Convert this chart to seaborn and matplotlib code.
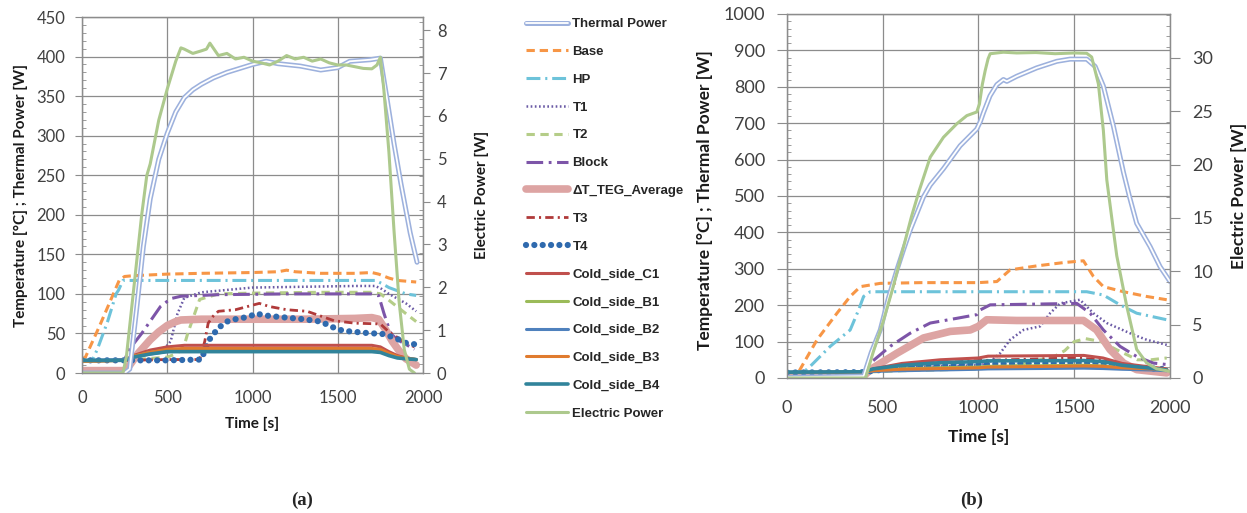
import matplotlib
matplotlib.use("Agg")
import matplotlib.pyplot as plt
import seaborn as sns
from matplotlib.ticker import MultipleLocator
from matplotlib.legend_handler import HandlerTuple

# ---------------- data (a) ----------------
a_thermal_t = [0, 250, 280, 320, 360, 400, 450, 500, 550, 600, 650, 700, 770, 850, 1000, 1080, 1150, 1280, 1400, 1500, 1570, 1690, 1750, 1790, 1830, 1870, 1925, 1965]
a_thermal = [0, 0, 5, 80, 160, 220, 270, 303, 330, 348, 358, 365, 373, 380, 390, 394, 391, 388, 383, 386, 394, 396, 398, 345, 290, 240, 177, 140]

a_base_t = [0, 20, 100, 220, 250, 300, 500, 700, 1000, 1150, 1200, 1250, 1400, 1600, 1700, 1740, 1800, 1850, 1960]
a_base = [18, 20, 58, 118, 122, 123, 125, 126, 127, 128, 130, 128, 126, 126, 127, 125, 120, 117, 115]

a_hp_t = [0, 60, 90, 150, 200, 215, 240, 500, 1000, 1500, 1720, 1760, 1800, 1850, 1900, 1960]
a_hp = [15, 16, 30, 65, 100, 105, 117, 117, 117, 117, 117, 113, 108, 104, 100, 98]

a_t1_t = [0, 250, 400, 480, 520, 560, 600, 700, 900, 1000, 1300, 1600, 1720, 1760, 1800, 1900, 1960]
a_t1 = [15, 16, 25, 30, 40, 75, 95, 102, 106, 108, 109, 110, 110, 106, 100, 88, 78]

a_t2_t = [0, 250, 500, 560, 600, 620, 690, 800, 1000, 1400, 1700, 1750, 1800, 1900, 1960]
a_t2 = [15, 16, 20, 25, 35, 50, 93, 100, 101, 102, 102, 100, 92, 75, 65]

a_block_t = [0, 250, 270, 350, 460, 520, 580, 800, 1200, 1700, 1740, 1770, 1810, 1850, 1900, 1950]
a_block = [15, 16, 28, 50, 84, 94, 97, 99, 100, 100, 98, 76, 50, 42, 36, 30]

a_dt_t = [0, 250, 280, 330, 400, 450, 500, 550, 580, 700, 1000, 1300, 1600, 1700, 1740, 1780, 1820, 1860, 1900, 1960]
a_dt = [3, 3, 10, 25, 42, 52, 60, 65, 67, 68, 68, 68, 69, 70, 68, 55, 40, 28, 18, 10]

a_t3_t = [0, 250, 500, 690, 720, 740, 770, 800, 900, 1040, 1100, 1200, 1320, 1480, 1600, 1750, 1800, 1850, 1900, 1950]
a_t3 = [15, 16, 17, 17, 40, 63, 72, 78, 80, 88, 84, 80, 78, 66, 63, 62, 52, 45, 38, 33]

a_t4_t = [0, 250, 300, 500, 700, 740, 760, 800, 850, 900, 950, 1000, 1020, 1100, 1200, 1300, 1400, 1450, 1500, 1550, 1600, 1700, 1750, 1800, 1850, 1900, 1960]
a_t4 = [16, 16, 16, 16, 17, 40, 46, 57, 65, 68, 70, 73, 75, 72, 70, 68, 65, 60, 55, 53, 52, 50, 50, 47, 43, 38, 36]

a_cold_t = [0, 250, 300, 400, 500, 600, 1000, 1700, 1750, 1800, 1850, 1900, 1960]
a_c1 = [15, 16, 22, 29, 33, 35, 35, 35, 33, 27, 22, 19, 17]
a_b1 = [15, 16, 21, 26, 29, 30, 30, 30, 28, 24, 20, 18, 17]
a_b2 = [16, 17, 20, 24, 27, 28, 28, 28, 27, 23, 20, 18, 17]
a_b3 = [15, 16, 21, 26, 30, 31, 31, 31, 30, 25, 21, 19, 17]
a_b4 = [16, 16, 20, 24, 27, 27, 27, 27, 26, 22, 19, 18, 17]

a_elec_t = [0, 100, 200, 240, 260, 300, 350, 380, 400, 450, 500, 550, 580, 600, 650, 700, 730, 750, 800, 850, 900, 950, 1000, 1050, 1100, 1150, 1200, 1250, 1300, 1350, 1400, 1450, 1500, 1550, 1600, 1650, 1700, 1730, 1750, 1770, 1800, 1830, 1860, 1890, 1920, 1950]
a_elec = [0, 0, 0, 0, 0.37, 1.84, 3.69, 4.61, 4.88, 5.9, 6.63, 7.28, 7.59, 7.56, 7.46, 7.52, 7.56, 7.7, 7.41, 7.46, 7.33, 7.37, 7.28, 7.24, 7.19, 7.28, 7.41, 7.33, 7.37, 7.28, 7.33, 7.24, 7.19, 7.19, 7.15, 7.11, 7.1, 7.19, 7.37, 6.63, 5.16, 3.32, 1.66, 0.55, 0.09, 0]

# ---------------- data (b) ----------------
b_thermal_t = [0, 400, 440, 487, 530, 574, 610, 643, 713, 748, 817, 904, 991, 1010, 1026, 1060, 1096, 1130, 1148, 1200, 1304, 1409, 1478, 1565, 1609, 1652, 1704, 1757, 1790, 1826, 1896, 1948, 2000]
b_thermal = [2, 5, 70, 132, 220, 297, 355, 406, 498, 530, 575, 638, 684, 705, 729, 775, 806, 820, 815, 829, 852, 870, 876, 876, 856, 802, 693, 565, 495, 425, 361, 306, 265]

b_base_t = [0, 60, 87, 157, 261, 330, 383, 487, 700, 1000, 1096, 1165, 1304, 1443, 1548, 1600, 1652, 1757, 1878, 1983]
b_base = [15, 16, 41, 105, 178, 224, 251, 260, 262, 262, 265, 297, 308, 317, 322, 279, 251, 237, 224, 215]

b_hp_t = [0, 60, 104, 226, 330, 374, 400, 435, 800, 1200, 1565, 1652, 1739, 1826, 1983]
b_hp = [15, 16, 23, 87, 132, 187, 224, 237, 237, 237, 237, 228, 201, 178, 160]

b_t1_t = [0, 400, 500, 800, 1000, 1050, 1113, 1165, 1235, 1322, 1374, 1426, 1530, 1600, 1670, 1791, 1878, 1983]
b_t1 = [15, 16, 28, 32, 35, 40, 68, 105, 132, 142, 178, 205, 215, 178, 151, 123, 105, 91]

b_t2_t = [0, 400, 600, 1000, 1200, 1400, 1450, 1500, 1560, 1640, 1720, 1830, 1900, 1983]
b_t2 = [15, 16, 20, 25, 35, 60, 75, 100, 108, 100, 78, 50, 50, 55]

b_block_t = [0, 400, 435, 539, 643, 748, 887, 991, 1009, 1061, 1300, 1513, 1583, 1652, 1739, 1826, 1913, 1983]
b_block = [15, 16, 41, 87, 123, 151, 164, 174, 187, 201, 203, 205, 178, 132, 87, 59, 41, 37]

b_dt_t = [0, 400, 435, 574, 713, 852, 957, 1000, 1043, 1200, 1400, 1548, 1617, 1687, 1757, 1826, 1983]
b_dt = [5, 5, 23, 68, 110, 128, 132, 142, 160, 158, 158, 158, 132, 78, 41, 23, 14]

b_t3_t = [0, 400, 600, 1000, 1500, 1600, 1750, 1900, 1983]
b_t3 = [15, 16, 35, 48, 55, 52, 38, 28, 25]

b_t4_t = [0, 400, 600, 1000, 1500, 1650, 1800, 1983]
b_t4 = [15, 16, 30, 38, 42, 40, 30, 24]

b_cold_t = [0, 400, 450, 600, 800, 1000, 1050, 1550, 1650, 1750, 1900, 1983]
b_c1 = [15, 16, 25, 40, 50, 55, 60, 62, 55, 40, 30, 25]
b_b1 = [15, 16, 20, 25, 28, 30, 32, 35, 33, 28, 24, 22]
b_b2 = [16, 16, 18, 20, 22, 24, 25, 27, 26, 24, 22, 20]
b_b3 = [15, 16, 20, 24, 26, 28, 30, 33, 32, 28, 25, 23]
b_b4 = [16, 17, 25, 35, 42, 45, 47, 48, 45, 35, 27, 22]

b_elec_t = [0, 410, 450, 500, 550, 600, 650, 690, 748, 817, 887, 939, 991, 1005, 1020, 1035, 1050, 1061, 1130, 1200, 1300, 1400, 1500, 1565, 1591, 1626, 1652, 1670, 1700, 1722, 1774, 1826, 1878, 1930, 2000]
b_elec = [0, 0, 2.41, 5.16, 8.25, 11.69, 15.12, 17.53, 20.69, 22.55, 23.82, 24.58, 24.92, 25.67, 27.5, 28.8, 29.9, 30.38, 30.52, 30.45, 30.49, 30.38, 30.45, 30.42, 30.07, 27.56, 23.2, 18.56, 14.44, 11.45, 6.74, 2.68, 1.41, 0.86, 0.62]

labels = ["Thermal Power", "Base", "HP", "T1", "T2", "Block", "\u0394T_TEG_Average", "T3", "T4",
          "Cold_side_C1", "Cold_side_B1", "Cold_side_B2", "Cold_side_B3", "Cold_side_B4", "Electric Power"]

# ---------------- styles ----------------
sns.set_style("white")
plt.rcParams['font.family'] = ['Lato', 'DejaVu Sans']
plt.rcParams['lines.scale_dashes'] = False

grey = '#8C8C8C'
styles = {
    "Base": dict(color='#F79646', lw=2.2, ls=(0, (6, 3.5))),
    "HP": dict(color='#6DC3DA', lw=2.2, ls=(0, (10, 3.5, 1.5, 3.5))),
    "T1": dict(color='#6A5AA5', lw=1.8, ls=(0, (1.2, 1.8))),
    "T2": dict(color='#B5CD88', lw=2.2, ls=(0, (6, 4))),
    "Block": dict(color='#7D55A8', lw=2.2, ls=(0, (12, 4, 2, 4))),
    "\u0394T_TEG_Average": dict(color='#DDA4A3', lw=5.5, ls='-'),
    "T3": dict(color='#B03A3A', lw=2.0, ls=(0, (6, 3, 1.5, 3))),
    "T4": dict(color='#2F6AAE', lw=4.5, ls=(0, (0.01, 6)), dash_capstyle='round'),
    "Cold_side_C1": dict(color='#C0504D', lw=2.2, ls='-'),
    "Cold_side_B1": dict(color='#9BBB59', lw=2.2, ls='-'),
    "Cold_side_B2": dict(color='#4F81BD', lw=2.2, ls='-'),
    "Cold_side_B3": dict(color='#E07B2E', lw=2.2, ls='-'),
    "Cold_side_B4": dict(color='#31849B', lw=2.6, ls='-'),
}
elec_style = dict(color='#ADC98D', lw=2.2, ls='-')

fig = plt.figure(figsize=(12.47, 5.13), dpi=100)
axA = fig.add_axes([0.06576, 0.27290, 0.27346, 0.69396])
axB = fig.add_axes([0.63111, 0.26316, 0.30714, 0.70955])

panels = [
    (axA, dict(thermal=(a_thermal_t, a_thermal), series=[
        ("Base", a_base_t, a_base), ("HP", a_hp_t, a_hp), ("T1", a_t1_t, a_t1), ("T2", a_t2_t, a_t2),
        ("Block", a_block_t, a_block), ("\u0394T_TEG_Average", a_dt_t, a_dt), ("T3", a_t3_t, a_t3),
        ("T4", a_t4_t, a_t4), ("Cold_side_C1", a_cold_t, a_c1), ("Cold_side_B1", a_cold_t, a_b1),
        ("Cold_side_B2", a_cold_t, a_b2), ("Cold_side_B3", a_cold_t, a_b3), ("Cold_side_B4", a_cold_t, a_b4)],
        elec=(a_elec_t, a_elec), ymax=450, ystep=50, yminor=10, e_max=8.31, e_step=1, e_minor=0.2)),
    (axB, dict(thermal=(b_thermal_t, b_thermal), series=[
        ("Base", b_base_t, b_base), ("HP", b_hp_t, b_hp), ("T1", b_t1_t, b_t1), ("T2", b_t2_t, b_t2),
        ("Block", b_block_t, b_block), ("\u0394T_TEG_Average", b_dt_t, b_dt), ("T3", b_t3_t, b_t3),
        ("T4", b_t4_t, b_t4), ("Cold_side_C1", b_cold_t, b_c1), ("Cold_side_B1", b_cold_t, b_b1),
        ("Cold_side_B2", b_cold_t, b_b2), ("Cold_side_B3", b_cold_t, b_b3), ("Cold_side_B4", b_cold_t, b_b4)],
        elec=(b_elec_t, b_elec), ymax=1000, ystep=100, yminor=20, e_max=34.1, e_step=5, e_minor=1)),
]

handles = {}
twins = []
for ax, p in panels:
    # thermal power: double line (blue outline, white core)
    t, v = p['thermal']
    sns.lineplot(x=t, y=v, ax=ax, color='#9DB1DD', lw=3.6, legend=False, zorder=3)
    outer = ax.lines[-1]
    sns.lineplot(x=t, y=v, ax=ax, color='white', lw=1.3, legend=False, zorder=3)
    inner = ax.lines[-1]
    handles["Thermal Power"] = (outer, inner)
    for name, t, v in p['series']:
        st = dict(styles[name])
        ls = st.pop('ls')
        sns.lineplot(x=t, y=v, ax=ax, linestyle=ls, legend=False, zorder=2, **st)
        handles[name] = ax.lines[-1]

    ax2 = ax.twinx()
    twins.append(ax2)
    t, v = p['elec']
    sns.lineplot(x=t, y=v, ax=ax2, linestyle='-', color=elec_style['color'], lw=elec_style['lw'], legend=False)
    handles["Electric Power"] = ax2.lines[-1]

    ax.set_xlim(0, 2000)
    ax.set_ylim(0, p['ymax'])
    ax2.set_ylim(0, p['e_max'])
    ax.xaxis.set_major_locator(MultipleLocator(500))
    ax.xaxis.set_minor_locator(MultipleLocator(100))
    ax.yaxis.set_major_locator(MultipleLocator(p['ystep']))
    ax.yaxis.set_minor_locator(MultipleLocator(p['yminor']))
    ax2.yaxis.set_major_locator(MultipleLocator(p['e_step']))
    ax2.yaxis.set_minor_locator(MultipleLocator(p['e_minor']))
    ax.grid(True, which='major', color=grey, lw=0.9)
    ax.set_axisbelow(True)
    for a in (ax, ax2):
        for s in a.spines.values():
            s.set_color(grey)
            s.set_linewidth(0.9)

fs_tick = [12, 13]
for i, (ax, ax2) in enumerate(zip([axA, axB], twins)):
    ax.tick_params(axis='both', which='major', direction='out', length=5 if i == 0 else 7, color=grey,
                   labelsize=fs_tick[i], labelcolor='#404040', pad=7 if i == 0 else 9)
    ax.tick_params(axis='both', which='minor', direction='in', length=3, color=grey)
    ax2.tick_params(axis='y', which='major', direction='out', length=5 if i == 0 else 7, color=grey,
                    labelsize=fs_tick[i], labelcolor='#404040', pad=5 if i == 0 else 9)
    ax2.tick_params(axis='y', which='minor', direction='in', length=3, color=grey)

lab_kw = dict(fontweight='bold', color='#1a1a1a')
axA.set_ylabel("Temperature [\u00b0C] ; Thermal Power [W]", fontsize=11, **lab_kw)
axA.yaxis.set_label_coords(-0.158, 0.5)
axA.set_xlabel("Time [s]", fontsize=11, **lab_kw)
axA.xaxis.set_label_coords(0.5, -0.124)
twins[0].set_ylabel("Electric Power [W]", fontsize=11, **lab_kw)
twins[0].yaxis.set_label_coords(1.152, 0.5)

axB.set_ylabel("Temperature [\u00b0C] ; Thermal Power [W]", fontsize=12.5, **lab_kw)
axB.yaxis.set_label_coords(-0.193, 0.49)
axB.set_xlabel("Time [s]", fontsize=12.5, **lab_kw)
axB.xaxis.set_label_coords(0.5, -0.140)
twins[1].set_ylabel("Electric Power [W]", fontsize=12.5, **lab_kw)
twins[1].yaxis.set_label_coords(1.16, 0.5)

leg_handles = [handles[l] for l in labels]
fig.legend(leg_handles, labels, loc='upper left', bbox_to_anchor=(0.412, 0.988), frameon=False,
           prop={'family': ['Liberation Sans', 'DejaVu Sans'], 'weight': 'bold', 'size': 9.5},
           handlelength=3.2, handletextpad=0.35, labelspacing=1.18,
           handler_map={tuple: HandlerTuple(ndivide=1, pad=0)})

fig.text(302 / 1247, 1 - 500 / 513, "(a)", ha='center', va='center', fontsize=13.5,
         fontweight='bold', family='Liberation Serif')
fig.text(972 / 1247, 1 - 500 / 513, "(b)", ha='center', va='center', fontsize=13.5,
         fontweight='bold', family='Liberation Serif')

fig.savefig("out.png", dpi=100)
